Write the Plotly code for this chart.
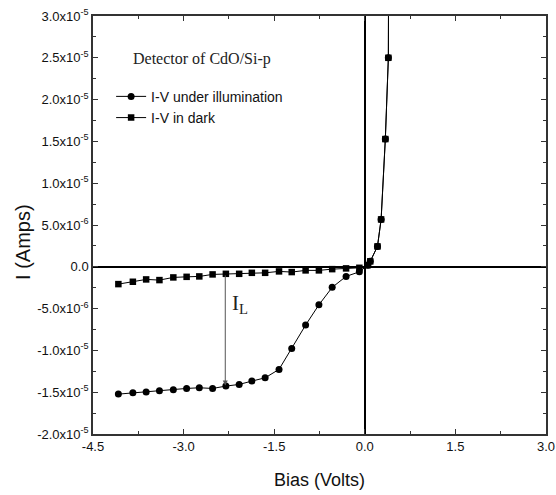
import plotly.graph_objects as go

# ---- data ----
bias_neg = [-4.08, -3.84, -3.62, -3.40, -3.17, -2.95, -2.74, -2.52, -2.30, -2.08,
            -1.87, -1.65, -1.42, -1.21, -0.98, -0.76, -0.54, -0.31, -0.09]
illum_neg = [-1.523, -1.507, -1.499, -1.483, -1.471, -1.455, -1.447, -1.455, -1.427, -1.407,
             -1.367, -1.328, -1.227, -0.976, -0.697, -0.455, -0.246, -0.115, -0.060]
dark_neg = [-0.207, -0.179, -0.151, -0.159, -0.127, -0.120, -0.115, -0.091, -0.084, -0.084,
            -0.072, -0.072, -0.055, -0.063, -0.043, -0.043, -0.028, -0.019, -0.012]
bias_pos = [0.05, 0.09, 0.21, 0.27, 0.34, 0.39, 0.40]
current_pos = [0.02, 0.065, 0.244, 0.567, 1.528, 2.50, 5.0]

scale = 1e-5
bias = bias_neg + bias_pos
illum = [v * scale for v in illum_neg + current_pos]
dark = [v * scale for v in dark_neg + current_pos]

x_ticks = [-4.5, -3.0, -1.5, 0.0, 1.5, 3.0]
x_ticklabels = ["-4.5", "-3.0", "-1.5", "0.0", "1.5", "3.0"]
y_ticks = [3.0e-5, 2.5e-5, 2.0e-5, 1.5e-5, 1.0e-5, 5.0e-6, 0.0,
           -5.0e-6, -1.0e-5, -1.5e-5, -2.0e-5]
y_ticklabels = ["3.0x10<sup>-5</sup>", "2.5x10<sup>-5</sup>", "2.0x10<sup>-5</sup>",
                "1.5x10<sup>-5</sup>", "1.0x10<sup>-5</sup>", "5.0x10<sup>-6</sup>", "0.0",
                "-5.0x10<sup>-6</sup>", "-1.0x10<sup>-5</sup>", "-1.5x10<sup>-5</sup>",
                "-2.0x10<sup>-5</sup>"]

arrow_x = -2.31
arrow_top = -0.084e-5
arrow_bottom = -1.42e-5

SANS = "Liberation Sans, Arial"
SERIF = "Liberation Serif, Times New Roman"

fig = go.Figure()
fig.add_trace(go.Scatter(
    x=bias, y=illum, mode="lines+markers", name="I-V under illumination",
    line=dict(color="black", width=1),
    marker=dict(symbol="circle", size=7, color="black"),
))
fig.add_trace(go.Scatter(
    x=bias, y=dark, mode="lines+markers", name="I-V in dark",
    line=dict(color="black", width=1),
    marker=dict(symbol="square", size=6.5, color="black"),
))

fig.add_annotation(
    x=arrow_x, y=arrow_bottom, ax=arrow_x, ay=arrow_top, xref="x", yref="y",
    axref="x", ayref="y", showarrow=True, arrowhead=2, arrowsize=1,
    arrowwidth=1, arrowcolor="#555555", text="",
)
fig.add_annotation(
    x=-2.06, y=-0.45e-5, xref="x", yref="y", showarrow=False,
    text="I<sub>L</sub>", font=dict(family=SERIF, size=21, color="#222"),
)
fig.add_annotation(
    x=0.083, y=0.897, xref="paper", yref="paper", xanchor="left", yanchor="middle",
    showarrow=False, text="Detector of CdO/Si-p",
    font=dict(family=SERIF, size=16, color="#222"),
)
# y-axis title placed as in the reference (slightly below the plot centre)
fig.add_annotation(
    x=-0.155, y=0.459, xref="paper", yref="paper", xanchor="center", yanchor="middle",
    showarrow=False, text="I (Amps)", textangle=-90,
    font=dict(family=SANS, size=20, color="#111"),
)

axis_common = dict(
    showline=True, linecolor="#333", linewidth=1.5, mirror="allticks",
    ticks="inside", ticklen=5, tickcolor="#333", tickwidth=1.2,
    showgrid=False, zeroline=True, zerolinecolor="black", zerolinewidth=1.5,
    tickfont=dict(family=SANS, size=13, color="#111"), automargin=False,
)

fig.update_xaxes(
    range=[-4.5, 3.0], tickvals=x_ticks, ticktext=x_ticklabels,
    minor=dict(ticks="inside", ticklen=3, dtick=0.75, tickcolor="#333", showgrid=False),
    title=dict(text="Bias (Volts)", font=dict(family=SANS, size=18, color="#111"),
               standoff=20),
    **axis_common,
)
fig.update_yaxes(
    range=[-2.0e-5, 3.0e-5], tickvals=y_ticks, ticktext=y_ticklabels,
    minor=dict(ticks="inside", ticklen=3, dtick=2.5e-6, tickcolor="#333", showgrid=False),
    **axis_common,
)

fig.update_layout(
    width=556, height=495,
    margin=dict(l=93, r=10, t=16, b=61),
    plot_bgcolor="white", paper_bgcolor="white",
    showlegend=True,
    legend=dict(x=0.04, y=0.845, xanchor="left", yanchor="top",
                bgcolor="rgba(0,0,0,0)", itemwidth=30, tracegroupgap=0,
                font=dict(family=SANS, size=14, color="#111")),
)

# remove the browser's default 8px page margin so the figure sits at (0, 0)
fig.write_html("out.html", config={"displayModeBar": False},
               post_script="document.body.style.margin='0';document.body.style.overflow='hidden';")
